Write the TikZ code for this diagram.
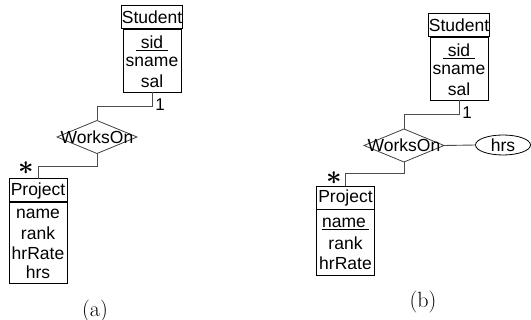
\documentclass[tikz,border=0pt]{standalone}
\usepackage{bm}
\usepackage{graphicx}
\usepackage{fontspec}
\setsansfont{Liberation Sans}
\usetikzlibrary{shapes.geometric}
\begin{document}
\begin{tikzpicture}[x=1pt,y=-1pt,
  every node/.style={inner sep=0pt,outer sep=0pt},
  txt/.style={font=\sffamily\fontsize{17.5}{19}\selectfont},
  titlebox/.style={draw,line width=1pt,minimum width=58pt,minimum height=23pt,txt},
  bodybox/.style={draw,line width=0.8pt,minimum width=58pt},
  rel/.style={draw=black!75,diamond,line width=0.8pt,minimum width=80pt,minimum height=33pt},
  conn/.style={draw=black!70,line width=0.9pt},
  card/.style={font=\sffamily\fontsize{17}{19}\selectfont},
  asterisk/.style={font=\normalsize},
  captxt/.style={font=\fontsize{22}{24}\selectfont}]
\useasboundingbox (0,0) rectangle (531,320);
% ---------- (a) ----------
\node[titlebox] (sAt) at (152,17.5) {Student};
\node[bodybox,minimum height=63pt] (sAb) at (152,60.5) {};
\node[txt] (sAsid) at (152,43) {\underline{\ sid\ }};
\node[txt] (sAsn) at (152,62) {sname};
\node[txt] (sAsal) at (152,81) {sal};
\node[rel] (dA) at (97,137) {};
\node[txt] (dAt) at (97,137) {WorksOn};
\node[titlebox] (pAt) at (38,190.5) {Project};
\node[bodybox,minimum height=81pt] (pAb) at (38,242.5) {};
\node[txt] (pAn) at (38,214) {name};
\node[txt] (pAr) at (38,233) {rank};
\node[txt] (pAh) at (38,253) {hrRate};
\node[txt] (pAs) at (38,272) {hrs};
\draw[conn] (sAb.south) -- ++(0,14) -| (dA.north);
\draw[conn] (dA.south) -- ++(0,13) -| (pAt.north);
\node[card] (oneA) at (160,105) {1};
\node[asterisk] (stA) at (26,168) {\scalebox{2.7}{$\bm{\ast}$}};
\node[captxt] (capA) at (95,311) {(a)};
% ---------- (b) ----------
\node[titlebox] (sBt) at (459,25.5) {Student};
\node[bodybox,minimum height=63pt] (sBb) at (459,68.5) {};
\node[txt] (sBsid) at (459,51) {\underline{\ sid\ }};
\node[txt] (sBsn) at (459,70) {sname};
\node[txt] (sBsal) at (459,89) {sal};
\node[rel] (dB) at (404,145.5) {};
\node[txt] (dBt) at (404,145.5) {WorksOn};
\node[draw=black,ellipse,line width=0.8pt,minimum width=55pt,minimum height=20pt,txt] (hrs) at (503,145) {hrs};
\draw[conn] (dB.east) -- (hrs.west);
\node[titlebox] (pBt) at (345.5,198) {Project};
\node[bodybox,minimum height=66pt] (pBb) at (345.5,242) {};
\node[txt] (pBn) at (345.5,224) {\underline{name\,}};
\node[txt] (pBr) at (345.5,243) {rank};
\node[txt] (pBh) at (345.5,263) {hrRate};
\draw[conn] (sBb.south) -- ++(0,14) -| (dB.north);
\draw[conn] (dB.south) -- ++(0,11) -| (pBt.north);
\node[card] (oneB) at (467,113) {1};
\node[asterisk] (stB) at (334,178) {\scalebox{2.7}{$\bm{\ast}$}};
\node[captxt] (capB) at (423,302) {(b)};
\end{tikzpicture}
\end{document}
